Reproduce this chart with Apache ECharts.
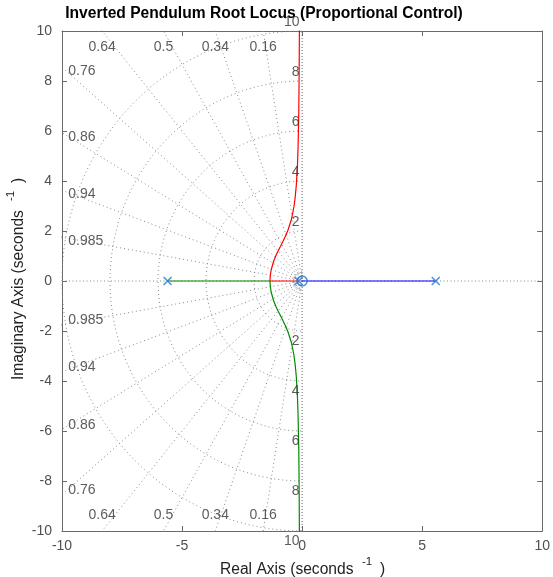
<!DOCTYPE html>
<html>
<head>
<meta charset="utf-8">
<script src="https://cdn.jsdelivr.net/npm/echarts@6/dist/echarts.min.js"></script>
<style>html,body{margin:0;padding:0;background:#fff}#c{width:553px;height:577px}</style>
</head>
<body>
<div id="c"></div>
<script>
// ---- data ----
const titleText = 'Inverted Pendulum Root Locus (Proportional Control)';
const xTickValues = [-10, -5, 0, 5, 10];
const yTickValues = [-10, -8, -6, -4, -2, 0, 2, 4, 6, 8, 10];
const zetaValues = [0.16, 0.34, 0.5, 0.64, 0.76, 0.86, 0.94, 0.985];
const wnValues = [2, 4, 6, 8, 10];
const wnInner = [0.2, 0.3, 0.4];
const poles = [-5.6041, -0.1428, 5.5651];
const zeros = [0];
const branchRed = [[-0.143,0],[-1.337,0],[-1.326,0.21],[-1.29,0.44],[-1.19,0.78],[-1.09,1.02],[-0.99,1.22],[-0.84,1.50],[-0.69,1.80],[-0.59,2.03],[-0.44,2.48],[-0.34,2.97],[-0.29,3.33],[-0.24,3.85],[-0.19,4.72],[-0.166,5.45],[-0.14,6.67],[-0.126,7.98],[-0.116,9.44],[-0.11,10.6]];
const branchGreen = [[-5.604,0],[-1.337,0],[-1.326,-0.21],[-1.29,-0.44],[-1.19,-0.78],[-1.09,-1.02],[-0.99,-1.22],[-0.84,-1.50],[-0.69,-1.80],[-0.59,-2.03],[-0.44,-2.48],[-0.34,-2.97],[-0.29,-3.33],[-0.24,-3.85],[-0.19,-4.72],[-0.166,-5.45],[-0.14,-6.67],[-0.126,-7.98],[-0.116,-9.44],[-0.11,-10.6]];
const branchBlue = [[5.565,0],[0.0,0]];

// ---- layout ----
const FONT = "'Liberation Sans', Arial, sans-serif";
const gridCol = '#8a8a8a';
const series = [];

function gridLine(pts, dash, col) {
  series.push({type:'line', data: pts, symbol:'none', silent:true, animation:false, clip:true,
    lineStyle:{color: col || gridCol, width:1, type: dash || [1,3]}, z:1});
}
// zeta = 0 and zeta = 1 lines
gridLine([[0,-10],[0,10]], [1,2], '#666');
gridLine([[-10,0],[10,0]], [1,2.5], '#888');
// damping ratio lines
zetaValues.forEach(z => {
  const s = Math.sqrt(1 - z*z);
  gridLine([[0,0],[-20*z, 20*s]]);
  gridLine([[0,0],[-20*z, -20*s]]);
});
// natural frequency semicircles
wnValues.concat(wnInner).forEach(w => {
  const pts = [];
  for (let a = 90; a <= 270; a += 2) {
    const r = a*Math.PI/180;
    pts.push([w*Math.cos(r), w*Math.sin(r)]);
  }
  gridLine(pts);
});

// locus branches
[[branchRed,'#ff0000'],[branchGreen,'#008a00'],[branchBlue,'#0000ff']].forEach(([d,c]) => {
  series.push({type:'line', data:d, symbol:'none', animation:false, clip:true,
    lineStyle:{color:c, width:1.2}, z:5});
});
// poles / zeros
const mk = '#1f77c8';
series.push({type:'scatter', data: poles.map(p => [p,0]), symbol:'path://M0 0L10 10M10 0L0 10', symbolSize:8,
  itemStyle:{color:'rgba(0,0,0,0)', borderColor:mk, borderWidth:1.5}, animation:false, z:6});
series.push({type:'scatter', data: zeros.map(p => [p,0]), symbol:'circle', symbolSize:10,
  itemStyle:{color:'rgba(0,0,0,0)', borderColor:mk, borderWidth:1.5}, animation:false, z:6});

// sgrid labels
const lblStyle = {show:true, color:'#333', fontSize:14, fontFamily:FONT};
const zetaLabelData = [];
zetaValues.forEach(z => {
  const s = Math.sqrt(1 - z*z);
  const txt = String(z);
  if (z <= 0.64) {
    const x = -10*z/s;
    zetaLabelData.push({value:[x, 9.36], label:{formatter:txt, position:'inside', align:'center'}});
    zetaLabelData.push({value:[x, -9.36], label:{formatter:txt, position:'inside', align:'center'}});
  } else {
    const y = 10*s/z - 0.17;
    zetaLabelData.push({value:[-9.74, y], label:{formatter:txt, position:'right', distance:0}});
    zetaLabelData.push({value:[-9.74, -y], label:{formatter:txt, position:'right', distance:0}});
  }
});
wnValues.forEach(w => {
  zetaLabelData.push({value:[-0.02, w + 0.37], label:{formatter:String(w), position:'left', distance:2}});
  zetaLabelData.push({value:[-0.02, -w - 0.4], label:{formatter:String(w), position:'left', distance:2}});
});
series.push({type:'scatter', data: zetaLabelData, symbolSize:0, clip:false, silent:true, animation:false,
  label: lblStyle, z:7});

const axisCol = '#6a6a6a';
const tickLbl = {color:'#505050', fontSize:14, fontFamily:FONT};
function xAx(pos, show) {
  return {type:'value', min:xTickValues[0], max:xTickValues[xTickValues.length-1], interval:xTickValues[1]-xTickValues[0],
    position:pos, axisLine:{show:true, onZero:false, lineStyle:{color:axisCol, width:1}},
    axisTick:{show:true, inside:true, length:5, lineStyle:{color:axisCol}},
    axisLabel: Object.assign({show:show, margin:8}, tickLbl), splitLine:{show:false}};
}
function yAx(pos, show) {
  return {type:'value', min:yTickValues[0], max:yTickValues[yTickValues.length-1], interval:yTickValues[1]-yTickValues[0],
    position:pos, axisLine:{show:true, onZero:false, lineStyle:{color:axisCol, width:1}},
    axisTick:{show:true, inside:true, length:5, lineStyle:{color:axisCol}},
    axisLabel: Object.assign({show:show, margin:10}, tickLbl), splitLine:{show:false}};
}

const LF = '15.6px ' + FONT;
const option = {
  backgroundColor:'#fff',
  animation:false,
  grid:{left:62, right:8, top:31, bottom:46, containLabel:false},
  xAxis:[xAx('bottom', true), xAx('top', false)],
  yAxis:[yAx('left', true), yAx('right', false)],
  series: series,
  graphic: [
    {type:'text', x:264, y:14, style:{text:titleText, font:"bold 15.6px " + FONT, fill:'#000', textAlign:'center', textVerticalAlign:'middle'}},
    {type:'group', x:302.5, y:570, children:[
      {type:'text', x:-82.5, y:0, style:{text:'Real Axis (seconds', font:LF, fill:'#222', textAlign:'left', textVerticalAlign:'middle'}},
      {type:'text', x:64.5, y:-8, style:{text:'-1', font:'11.5px ' + FONT, fill:'#222', textAlign:'center', textVerticalAlign:'middle'}},
      {type:'text', x:77.5, y:0, style:{text:')', font:LF, fill:'#222', textAlign:'left', textVerticalAlign:'middle'}}
    ]},
    {type:'group', x:19, y:281, rotation:Math.PI/2, children:[
      {type:'text', x:-99, y:0, style:{text:'Imaginary Axis (seconds', font:LF, fill:'#222', textAlign:'left', textVerticalAlign:'middle'}},
      {type:'text', x:85, y:-8, style:{text:'-1', font:'11.5px ' + FONT, fill:'#222', textAlign:'center', textVerticalAlign:'middle'}},
      {type:'text', x:98, y:0, style:{text:')', font:LF, fill:'#222', textAlign:'left', textVerticalAlign:'middle'}}
    ]}
  ]
};
const chart = echarts.init(document.getElementById('c'), null, {renderer:'canvas'});
chart.setOption(option);
</script>
</body>
</html>
